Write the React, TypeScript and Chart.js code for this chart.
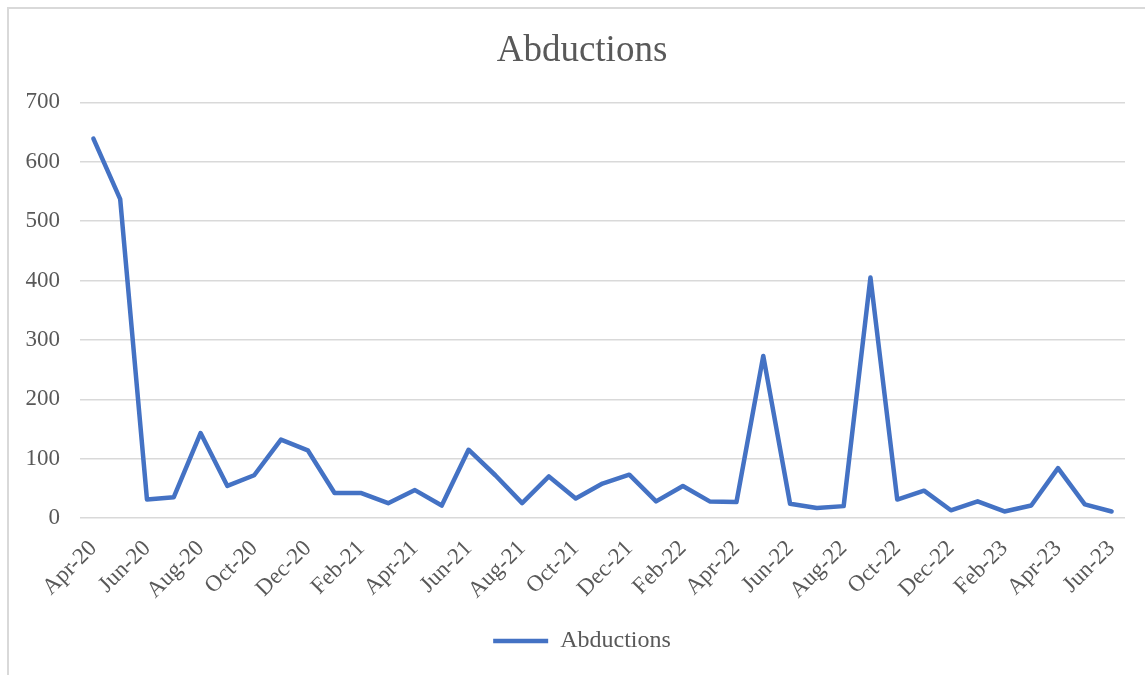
import React, { useEffect, useRef } from 'react';
import { Chart, registerables } from 'chart.js';

Chart.register(...registerables);

const months = [
  'Apr-20', 'May-20', 'Jun-20', 'Jul-20', 'Aug-20', 'Sep-20', 'Oct-20', 'Nov-20', 'Dec-20',
  'Jan-21', 'Feb-21', 'Mar-21', 'Apr-21', 'May-21', 'Jun-21', 'Jul-21', 'Aug-21', 'Sep-21', 'Oct-21', 'Nov-21', 'Dec-21',
  'Jan-22', 'Feb-22', 'Mar-22', 'Apr-22', 'May-22', 'Jun-22', 'Jul-22', 'Aug-22', 'Sep-22', 'Oct-22', 'Nov-22', 'Dec-22',
  'Jan-23', 'Feb-23', 'Mar-23', 'Apr-23', 'May-23', 'Jun-23',
];

const abductions = [
  639, 537, 31, 35, 143, 54, 72, 132, 114,
  42, 42, 25, 47, 21, 115, 72, 25, 70, 33, 58, 73,
  28, 54, 28, 27, 273, 24, 17, 20, 405, 31, 46, 13,
  28, 11, 21, 84, 23, 11,
];

const seriesName = 'Abductions';
const chartTitle = 'Abductions';
const yMin = 0;
const yMax = 700;
const yStep = 100;

const FONT = "'Liberation Serif', 'Times New Roman', serif";
const TEXT = '#595959';
const GRID = '#d9d9d9';
const LINE = '#4472C4';

export default function App() {
  const ref = useRef<HTMLCanvasElement>(null);

  useEffect(() => {
    if (!ref.current) return;
    const chart = new Chart(ref.current, {
      type: 'line',
      data: {
        labels: months,
        datasets: [
          {
            label: seriesName,
            data: abductions,
            borderColor: LINE,
            backgroundColor: LINE,
            borderWidth: 4.5,
            pointRadius: 0,
            pointHoverRadius: 0,
            borderCapStyle: 'round',
            borderJoinStyle: 'round',
            tension: 0,
            fill: false,
          },
        ],
      },
      options: {
        responsive: false,
        animation: false,
        events: [],
        layout: { padding: { left: 16, right: 6, top: 0, bottom: 12 } },
        plugins: {
          title: {
            display: true,
            text: chartTitle,
            color: TEXT,
            font: { family: FONT, size: 37, weight: 'normal' },
            padding: { top: 20, bottom: 29 },
          },
          legend: {
            position: 'bottom',
            labels: {
              usePointStyle: true,
              pointStyle: 'line',
              pointStyleWidth: 55,
              color: TEXT,
              font: { family: FONT, size: 24 },
              padding: 2,
            },
          },
          tooltip: { enabled: false },
        },
        scales: {
          x: {
            offset: true,
            grid: { display: false },
            border: { display: false },
            ticks: {
              autoSkip: false,
              maxRotation: 45,
              minRotation: 45,
              padding: 9,
              color: TEXT,
              font: { family: FONT, size: 23 },
              callback: (_v: any, i: number) => (i % 2 === 0 ? months[i] : ''),
            },
            afterFit: (s: any) => {
              s.paddingLeft = 0;
              s.paddingRight = 20;
              s.height = 109;
            },
          },
          y: {
            min: yMin,
            max: yMax,
            ticks: {
              stepSize: yStep,
              padding: 20,
              color: TEXT,
              font: { family: FONT, size: 23 },
            },
            grid: { color: GRID, lineWidth: 1.5, drawTicks: false },
            border: { display: false },
            afterFit: (s: any) => {
              s.width = 55;
            },
          },
        },
      },
    });
    return () => chart.destroy();
  }, []);

  return (
    <div
      style={{
        position: 'absolute',
        left: 0,
        top: 0,
        width: 1145,
        height: 675,
        overflow: 'hidden',
        background: '#fff',
      }}
    >
      <div
        style={{
          position: 'absolute',
          left: 7,
          top: 7,
          width: 1145,
          height: 675,
          borderLeft: `2px solid ${GRID}`,
          borderTop: `2px solid ${GRID}`,
        }}
      >
        <canvas ref={ref} width={1136} height={666} style={{ display: 'block' }} />
      </div>
    </div>
  );
}
